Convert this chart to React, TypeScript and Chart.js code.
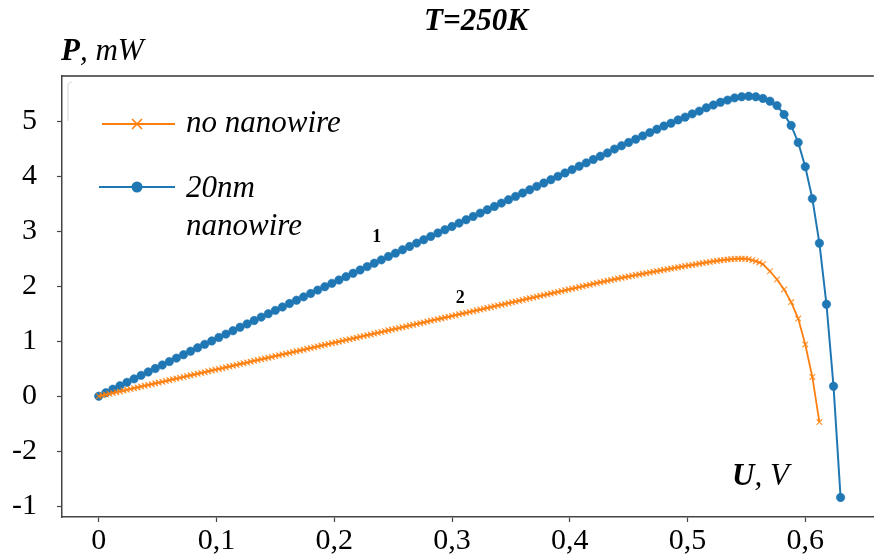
import React, { useEffect, useRef } from "react";
import { Chart, registerables } from "chart.js";

Chart.register(...registerables);

// ---------- data ----------
const blueU = [
  0, 0.006, 0.012, 0.018, 0.024, 0.03, 0.036, 0.042, 0.048, 0.054,
  0.06, 0.066, 0.072, 0.078, 0.084, 0.09, 0.096, 0.102, 0.108, 0.114,
  0.12, 0.126, 0.132, 0.138, 0.144, 0.15, 0.156, 0.162, 0.168, 0.174,
  0.18, 0.186, 0.192, 0.198, 0.204, 0.21, 0.216, 0.222, 0.228, 0.234,
  0.24, 0.246, 0.252, 0.258, 0.264, 0.27, 0.276, 0.282, 0.288, 0.294,
  0.3, 0.306, 0.312, 0.318, 0.324, 0.33, 0.336, 0.342, 0.348, 0.354,
  0.36, 0.366, 0.372, 0.378, 0.384, 0.39, 0.396, 0.402, 0.408, 0.414,
  0.42, 0.426, 0.432, 0.438, 0.444, 0.45, 0.456, 0.462, 0.468, 0.474,
  0.48, 0.486, 0.492, 0.498, 0.504, 0.51, 0.516, 0.522, 0.528, 0.534,
  0.54, 0.546, 0.552, 0.558, 0.564, 0.57, 0.576, 0.582, 0.588, 0.594,
  0.6, 0.606, 0.612, 0.618, 0.624, 0.63,
];
const blueP = [
  0, 0.063, 0.126, 0.189, 0.252, 0.315, 0.378, 0.441, 0.503, 0.566,
  0.629, 0.692, 0.754, 0.817, 0.879, 0.942, 1.004, 1.066, 1.128, 1.19,
  1.252, 1.313, 1.375, 1.437, 1.498, 1.56, 1.621, 1.683, 1.744, 1.805,
  1.866, 1.928, 1.989, 2.05, 2.111, 2.172, 2.233, 2.294, 2.355, 2.416,
  2.477, 2.538, 2.599, 2.66, 2.721, 2.782, 2.842, 2.903, 2.964, 3.024,
  3.084, 3.145, 3.206, 3.266, 3.327, 3.388, 3.448, 3.509, 3.57, 3.63,
  3.691, 3.751, 3.812, 3.873, 3.934, 3.995, 4.056, 4.117, 4.178, 4.24,
  4.3, 4.36, 4.42, 4.49, 4.55, 4.61, 4.67, 4.73, 4.79, 4.85,
  4.91, 4.96, 5.02, 5.07, 5.13, 5.18, 5.24, 5.29, 5.34, 5.38,
  5.42, 5.44, 5.45, 5.44, 5.41, 5.36, 5.28, 5.12, 4.92, 4.61,
  4.17, 3.59, 2.78, 1.67, 0.18, -1.84,
];
const orangeU = [
  0, 0.003, 0.006, 0.009, 0.012, 0.015, 0.018, 0.021, 0.024, 0.027,
  0.03, 0.033, 0.036, 0.039, 0.042, 0.045, 0.048, 0.051, 0.054, 0.057,
  0.06, 0.063, 0.066, 0.069, 0.072, 0.075, 0.078, 0.081, 0.084, 0.087,
  0.09, 0.093, 0.096, 0.099, 0.102, 0.105, 0.108, 0.111, 0.114, 0.117,
  0.12, 0.123, 0.126, 0.129, 0.132, 0.135, 0.138, 0.141, 0.144, 0.147,
  0.15, 0.153, 0.156, 0.159, 0.162, 0.165, 0.168, 0.171, 0.174, 0.177,
  0.18, 0.183, 0.186, 0.189, 0.192, 0.195, 0.198, 0.201, 0.204, 0.207,
  0.21, 0.213, 0.216, 0.219, 0.222, 0.225, 0.228, 0.231, 0.234, 0.237,
  0.24, 0.243, 0.246, 0.249, 0.252, 0.255, 0.258, 0.261, 0.264, 0.267,
  0.27, 0.273, 0.276, 0.279, 0.282, 0.285, 0.288, 0.291, 0.294, 0.297,
  0.3, 0.303, 0.306, 0.309, 0.312, 0.315, 0.318, 0.321, 0.324, 0.327,
  0.33, 0.333, 0.336, 0.339, 0.342, 0.345, 0.348, 0.351, 0.354, 0.357,
  0.36, 0.363, 0.366, 0.369, 0.372, 0.375, 0.378, 0.381, 0.384, 0.387,
  0.39, 0.393, 0.396, 0.399, 0.402, 0.405, 0.408, 0.411, 0.414, 0.417,
  0.42, 0.423, 0.426, 0.429, 0.432, 0.435, 0.438, 0.441, 0.444, 0.447,
  0.45, 0.453, 0.456, 0.459, 0.462, 0.465, 0.468, 0.471, 0.474, 0.477,
  0.48, 0.483, 0.486, 0.489, 0.492, 0.495, 0.498, 0.501, 0.504, 0.507,
  0.51, 0.513, 0.516, 0.519, 0.522, 0.525, 0.528, 0.531, 0.534, 0.537,
  0.54, 0.543, 0.546, 0.549, 0.552, 0.555, 0.558, 0.561, 0.564,
  0.57, 0.576, 0.582, 0.588, 0.594, 0.6, 0.606, 0.612,
];
const orangeP = [
  0, 0.015, 0.029, 0.044, 0.058, 0.073, 0.087, 0.102, 0.117, 0.131,
  0.146, 0.16, 0.175, 0.19, 0.204, 0.219, 0.233, 0.248, 0.262, 0.277,
  0.292, 0.306, 0.321, 0.335, 0.35, 0.365, 0.379, 0.394, 0.408, 0.423,
  0.437, 0.452, 0.467, 0.481, 0.496, 0.51, 0.525, 0.539, 0.554, 0.569,
  0.583, 0.598, 0.612, 0.627, 0.642, 0.656, 0.671, 0.685, 0.7, 0.714,
  0.729, 0.744, 0.758, 0.773, 0.787, 0.802, 0.816, 0.831, 0.846, 0.86,
  0.875, 0.889, 0.904, 0.919, 0.933, 0.948, 0.962, 0.977, 0.991, 1.006,
  1.021, 1.035, 1.05, 1.064, 1.079, 1.094, 1.108, 1.123, 1.137, 1.152,
  1.166, 1.181, 1.196, 1.21, 1.225, 1.239, 1.254, 1.268, 1.283, 1.298,
  1.312, 1.327, 1.341, 1.356, 1.371, 1.385, 1.4, 1.414, 1.429, 1.443,
  1.458, 1.473, 1.487, 1.502, 1.516, 1.531, 1.545, 1.56, 1.575, 1.589,
  1.604, 1.618, 1.633, 1.648, 1.662, 1.677, 1.691, 1.706, 1.72, 1.735,
  1.75, 1.764, 1.779, 1.793, 1.808, 1.823, 1.837, 1.852, 1.866, 1.881,
  1.895, 1.91, 1.925, 1.939, 1.954, 1.968, 1.983, 1.997, 2.012, 2.027,
  2.041, 2.055, 2.069, 2.083, 2.097, 2.11, 2.124, 2.137, 2.15, 2.163,
  2.176, 2.188, 2.2, 2.212, 2.224, 2.236, 2.248, 2.26, 2.272, 2.284,
  2.296, 2.308, 2.32, 2.331, 2.342, 2.353, 2.364, 2.375, 2.386, 2.397,
  2.408, 2.419, 2.43, 2.44, 2.45, 2.459, 2.468, 2.476, 2.483, 2.489,
  2.494, 2.497, 2.498, 2.496, 2.49, 2.47, 2.452, 2.43, 2.4,
  2.27, 2.12, 1.94, 1.71, 1.41, 0.94, 0.35, -0.47,
];

const seriesNames = ["no nanowire", "20nm nanowire"];
const legendLines = [["no nanowire"], ["20nm", "nanowire"]];
const xTickValues = [0, 0.1, 0.2, 0.3, 0.4, 0.5, 0.6];
const xTickLabels = ["0", "0,1", "0,2", "0,3", "0,4", "0,5", "0,6"];
const yTickValues = [-2, -1, 0, 1, 2, 3, 4, 5];
const yTickLabels = ["-1", "-2", "0", "1", "2", "3", "4", "5"];
const titleText = "T=250K";
const yAxisName = ["P", ", mW"];
const xAxisName = ["U", ", V"];
const curveLabels = ["1", "2"];
const curveLabelU = [0.236, 0.307];
const curveLabelP = [2.89, 1.78];

const ORANGE = "#ff7f0e";
const BLUE = "#1f77b4";
const SERIF = '"Liberation Serif"';

function lookup(values: number[], labels: string[], v: number) {
  const i = values.findIndex((t) => Math.abs(t - v) < 1e-9);
  return i >= 0 ? labels[i] : "";
}

const overlay = {
  id: "overlay",
  afterDraw(chart: any) {
    const ctx = chart.ctx as CanvasRenderingContext2D;
    const { left, right, top } = chart.chartArea;
    ctx.save();
    // top frame line
    ctx.strokeStyle = "#333";
    ctx.lineWidth = 1.5;
    ctx.beginPath();
    ctx.moveTo(left, top);
    ctx.lineTo(right, top);
    ctx.stroke();

    ctx.fillStyle = "#000";
    ctx.textBaseline = "alphabetic";
    // title
    ctx.font = `italic bold 31px ${SERIF}`;
    ctx.textAlign = "center";
    ctx.fillText(titleText, 476, 30);

    // axis names
    const drawName = (parts: string[], x: number, y: number) => {
      ctx.textAlign = "left";
      ctx.font = `italic bold 31px ${SERIF}`;
      ctx.fillText(parts[0], x, y);
      const w = ctx.measureText(parts[0]).width;
      ctx.font = `italic 31px ${SERIF}`;
      ctx.fillText(parts[1], x + w, y);
    };
    drawName(yAxisName, 61, 60);
    drawName(xAxisName, 732, 485);

    // curve labels
    const xs = chart.scales.x;
    const ys = chart.scales.y;
    ctx.font = `bold 18px ${SERIF}`;
    ctx.textAlign = "center";
    ctx.textBaseline = "middle";
    curveLabels.forEach((t, i) => {
      ctx.fillText(t, xs.getPixelForValue(curveLabelU[i]), ys.getPixelForValue(curveLabelP[i]));
    });

    // legend frame (faint)
    ctx.strokeStyle = "#dddddd";
    ctx.lineWidth = 1.2;
    ctx.beginPath();
    ctx.moveTo(68, 121);
    ctx.lineTo(68, 86);
    ctx.quadraticCurveTo(68, 82, 72, 82);
    ctx.stroke();

    // legend entries
    ctx.textBaseline = "alphabetic";
    ctx.textAlign = "left";
    // orange
    ctx.strokeStyle = ORANGE;
    ctx.lineWidth = 2;
    ctx.beginPath();
    ctx.moveTo(102, 124);
    ctx.lineTo(175, 124);
    ctx.stroke();
    ctx.lineWidth = 1.6;
    ctx.beginPath();
    ctx.moveTo(132, 119);
    ctx.lineTo(142, 129);
    ctx.moveTo(142, 119);
    ctx.lineTo(132, 129);
    ctx.stroke();
    ctx.font = `italic 31px ${SERIF}`;
    ctx.fillStyle = "#000";
    ctx.fillText(legendLines[0][0], 186, 132);
    // blue
    ctx.strokeStyle = BLUE;
    ctx.lineWidth = 2;
    ctx.beginPath();
    ctx.moveTo(99, 187);
    ctx.lineTo(175, 187);
    ctx.stroke();
    ctx.fillStyle = BLUE;
    ctx.beginPath();
    ctx.arc(137, 187, 5.5, 0, Math.PI * 2);
    ctx.fill();
    ctx.fillStyle = "#000";
    ctx.fillText(legendLines[1][0], 186, 197);
    ctx.fillText(legendLines[1][1], 186, 235);
    ctx.restore();
  },
};

export default function App() {
  const ref = useRef<HTMLCanvasElement | null>(null);
  useEffect(() => {
    document.body.style.margin = "0";
    const canvas = ref.current;
    if (!canvas) return;
    const chart = new Chart(canvas, {
      type: "line",
      data: {
        datasets: [
          {
            label: seriesNames[0],
            data: orangeU.map((u, i) => ({ x: u, y: orangeP[i] })),
            borderColor: ORANGE,
            backgroundColor: ORANGE,
            pointBorderColor: "rgba(255,127,14,0.8)",
            pointStyle: "crossRot",
            pointRadius: 4,
            pointBorderWidth: 1.2,
            borderWidth: 1.8,
            tension: 0,
          },
          {
            label: seriesNames[1],
            data: blueU.map((u, i) => ({ x: u, y: blueP[i] })),
            borderColor: BLUE,
            backgroundColor: BLUE,
            pointBorderColor: "rgba(31,119,180,0.6)",
            pointStyle: "circle",
            pointRadius: 4.2,
            pointBorderWidth: 1,
            borderWidth: 2,
            tension: 0,
          },
        ],
      },
      options: {
        responsive: false,
        animation: false,
        devicePixelRatio: 1,
        layout: { padding: { top: 76, left: 0, right: 0, bottom: 0 } },
        plugins: { legend: { display: false }, tooltip: { enabled: false }, title: { display: false } },
        scales: {
          x: {
            type: "linear",
            min: -0.0312,
            max: 0.6582,
            afterBuildTicks: (s: any) => {
              s.ticks = xTickValues.map((v) => ({ value: v }));
            },
            afterFit: (s: any) => {
              s.height = 42;
            },
            ticks: {
              callback: (v: any) => lookup(xTickValues, xTickLabels, Number(v)),
              font: { family: SERIF, size: 30 },
              color: "#000",
              padding: 1,
              maxRotation: 0,
              autoSkip: false,
            },
            grid: { display: true, drawOnChartArea: false, drawTicks: true, tickLength: 5, color: "#444", tickWidth: 1.2 },
            border: { display: true, color: "#444", width: 1.5 },
          },
          y: {
            type: "linear",
            min: -2.195,
            max: 5.818,
            afterBuildTicks: (s: any) => {
              s.ticks = yTickValues.map((v) => ({ value: v }));
            },
            afterFit: (s: any) => {
              s.width = 62;
            },
            ticks: {
              callback: (v: any) => lookup(yTickValues, yTickLabels, Number(v)),
              font: { family: SERIF, size: 30 },
              color: "#000",
              padding: 20,
              autoSkip: false,
            },
            grid: { display: true, drawOnChartArea: false, drawTicks: true, tickLength: 5, color: "#444", tickWidth: 1.2 },
            border: { display: true, color: "#444", width: 1.5 },
          },
        },
      },
      plugins: [overlay],
    } as any);
    return () => chart.destroy();
  }, []);
  return <canvas ref={ref} width={879} height={559} style={{ display: "block" }} />;
}
